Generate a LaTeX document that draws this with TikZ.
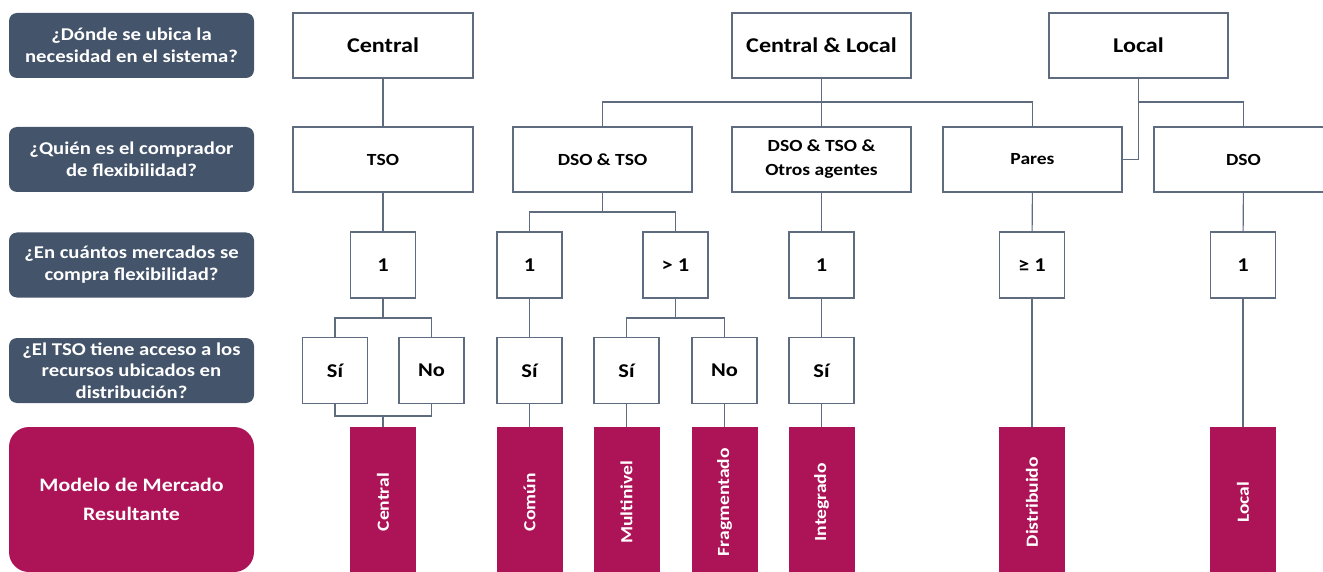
\documentclass[tikz,border=0pt]{standalone}
\usepackage{fontspec}
\setmainfont[FakeStretch=1.15]{Carlito}
\usepackage{graphicx}
\usetikzlibrary{positioning}

\definecolor{pizarra}{HTML}{44546A}
\definecolor{granate}{HTML}{AD1457}
\definecolor{linea}{HTML}{5F6B7E}

\begin{document}
\begin{tikzpicture}[x=1pt,y=-1pt,
  preg/.style={fill=pizarra,text=white,rounded corners=8pt,inner sep=0pt,
    minimum width=245pt,minimum height=65pt,align=center,
    font=\bfseries\fontsize{18}{22}\selectfont},
  modelo/.style={fill=granate,text=white,rounded corners=20pt,inner sep=0pt,
    minimum width=245pt,minimum height=145pt,align=center,
    font=\bfseries\fontsize{19}{29}\selectfont},
  caja/.style={draw=linea,line width=1.1pt,fill=white,inner sep=0pt,
    minimum height=65pt,align=center,font=\bfseries\fontsize{17}{24}\selectfont},
  grande/.style={caja,minimum width=179pt,font=\bfseries\fontsize{21}{26}\selectfont},
  media/.style={caja,minimum width=179pt},
  chica/.style={caja,minimum width=65pt,minimum height=66pt,font=\bfseries\fontsize{19.5}{24}\selectfont},
  barra/.style={fill=granate,text=white,inner sep=0pt,minimum width=66pt,
    minimum height=150pt,font=\bfseries\fontsize{17}{20}\selectfont},
  con/.style={draw=linea,line width=1.1pt}
]
 \useasboundingbox (0,0) rectangle (1323,572);
 % columnas (x) y filas (y)
 \def\xP{131.5}
 \def\yA{45.5}
 \def\yB{159.5}
 \def\yC{265}
 \def\yD{370.5}
 % preguntas a la izquierda
 \node[preg] (p1) at (\xP,\yA) {¿Dónde se ubica la\\necesidad en el sistema?};
 \node[preg] (p2) at (\xP,\yB) {¿Quién es el comprador\\de flexibilidad?};
 \node[preg] (p3) at (\xP,\yC) {¿En cuántos mercados se\\compra flexibilidad?};
 \node[preg,font=\bfseries\fontsize{18}{21.5}\selectfont] (p4) at (\xP,\yD) {¿El TSO tiene acceso a los\\recursos ubicados en\\distribución?};
 \node[modelo] (p5) at (\xP,499.5) {Modelo de Mercado\\Resultante};
 % fila 1: ubicacion de la necesidad
 \node[grande,minimum width=180pt] (cen) at (383,\yA) {Central};
 \node[grande] (cyl) at (821.5,\yA) {Central \& Local};
 \node[grande] (loc) at (1138.5,\yA) {Local};
 % fila 2: comprador
 \node[media,minimum width=180pt] (tso) at (383,\yB) {TSO};
 \node[media] (dyt) at (602.5,\yB) {DSO \& TSO};
 \node[media] (dto) at (821.5,\yB) {DSO \& TSO \&\\Otros agentes};
 \node[media] (par) at (1032.5,\yB) {Pares};
 \node[media] (dso) at (1243.5,\yB) {DSO};
 % fila 3: numero de mercados
 \node[chica] (nA) at (383,\yC) {1};
 \node[chica] (nB) at (529.5,\yC) {1};
 \node[chica] (nC) at (675.5,\yC) {> 1};
 \node[chica] (nD) at (821.5,\yC) {1};
 \node[chica] (nE) at (1032,\yC) {≥ 1};
 \node[chica] (nF) at (1243,\yC) {1};
 % fila 4: acceso del TSO
 \node[chica] (sA) at (335,\yD) {Sí};
 \node[chica] (oA) at (431.5,\yD) {No};
 \node[chica] (sB) at (529.5,\yD) {Sí};
 \node[chica] (sC) at (626.5,\yD) {Sí};
 \node[chica] (oC) at (724.5,\yD) {No};
 \node[chica] (sD) at (821.5,\yD) {Sí};
 % modelos resultantes
 \node[barra,anchor=north] (mcen) at (383,427) {\rotatebox{90}{Central}};
 \node[barra,anchor=north] (mcom) at (529.5,427) {\rotatebox{90}{Común}};
 \node[barra,anchor=north] (mmul) at (626.5,427) {\rotatebox{90}{Multinivel}};
 \node[barra,anchor=north] (mfra) at (724.5,427) {\rotatebox{90}{Fragmentado}};
 \node[barra,anchor=north] (mint) at (821.5,427) {\rotatebox{90}{Integrado}};
 \node[barra,anchor=north] (mdis) at (1032,427) {\rotatebox{90}{Distribuido}};
 \node[barra,anchor=north] (mloc) at (1243,427) {\rotatebox{90}{Local}};
 % puntos de bifurcacion
 \coordinate (bcyl) at (821.5,102);
 \coordinate (bloc) at (1138.5,102);
 \coordinate (bA) at (383,318);
 \coordinate (jA) at (383,416);
 \coordinate (bB) at (602.5,212);
 \coordinate (bC) at (675.5,318);
 % conexiones
 \draw[con] (cen) -- (tso);
 \draw[con] (cyl) -- (dto);
 \draw[con] (dyt.north) |- (bcyl) -| (par.north);
 \draw[con] (loc.south) |- (par.east);
 \draw[con] (bloc) -| (dso.north);
 \draw[con] (tso) -- (nA);
 \draw[con] (nA.south) -- (bA);
 \draw[con] (sA.north) |- (bA) -| (oA.north);
 \draw[con] (sA.south) |- (jA) -| (oA.south);
 \draw[con] (jA) -- (mcen.north);
 \draw[con] (dyt.south) -- (bB);
 \draw[con] (nB.north) |- (bB) -| (nC.north);
 \draw[con] (nB) -- (sB);
 \draw[con] (sB) -- (mcom);
 \draw[con] (nC.south) -- (bC);
 \draw[con] (sC.north) |- (bC) -| (oC.north);
 \draw[con] (sC) -- (mmul);
 \draw[con] (oC) -- (mfra);
 \draw[con] (dto) -- (nD);
 \draw[con] (nD) -- (sD);
 \draw[con] (sD) -- (mint);
 \draw[con] (par) -- (nE);
 \draw[con] (nE) -- (mdis);
 \draw[con] (dso) -- (nF);
 \draw[con] (nF) -- (mloc);
\end{tikzpicture}
\end{document}
